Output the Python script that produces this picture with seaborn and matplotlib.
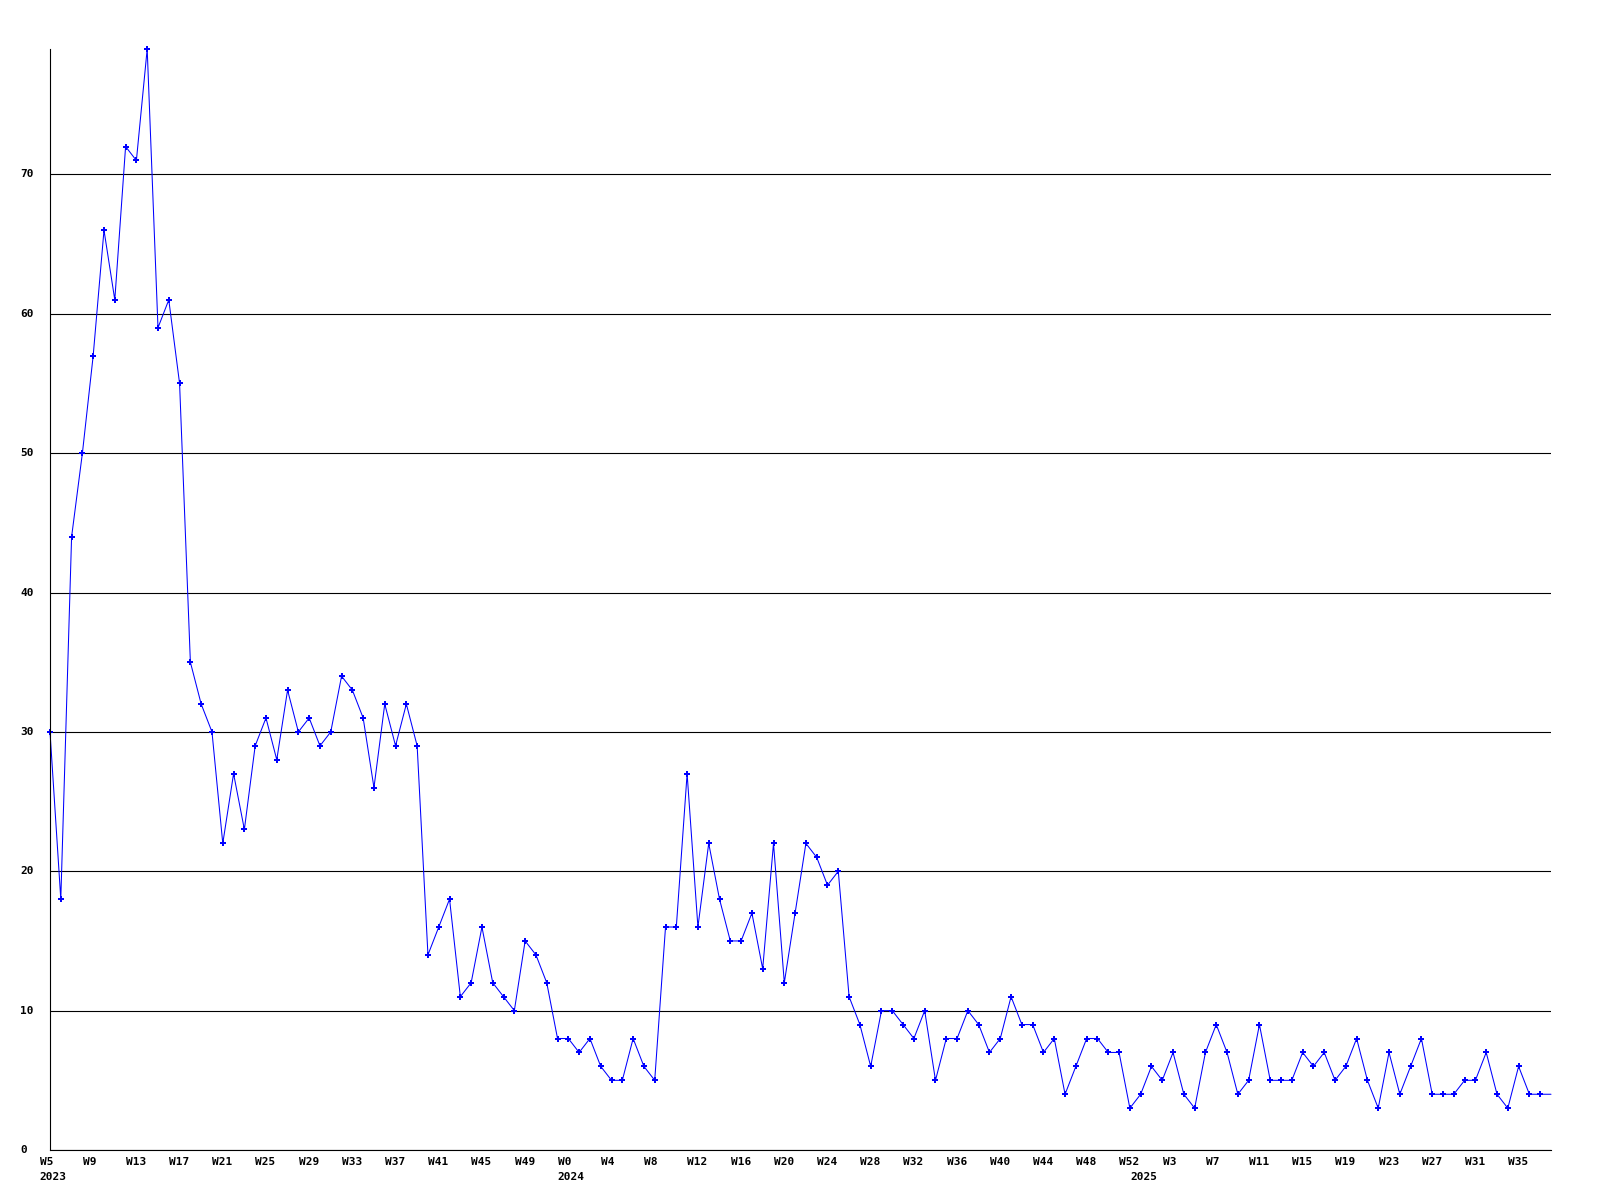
import numpy as np
import pandas as pd
import matplotlib
matplotlib.use("Agg")
import matplotlib.pyplot as plt
import matplotlib.transforms as mtransforms
import seaborn as sns

# ---- data ----
weeks_2023 = list(range(5, 53))
values_2023 = [30, 18, 44, 50, 57, 66, 61, 72, 71, 79, 59, 61, 55, 35, 32, 30, 22, 27, 23, 29,
               31, 28, 33, 30, 31, 29, 30, 34, 33, 31, 26, 32, 29, 32, 29, 14, 16, 18, 11, 12,
               16, 12, 11, 10, 15, 14, 12, 8]
weeks_2024 = list(range(0, 53))
values_2024 = [8, 7, 8, 6, 5, 5, 8, 6, 5, 16, 16, 27, 16, 22, 18, 15, 15, 17, 13, 22,
               12, 17, 22, 21, 19, 20, 11, 9, 6, 10, 10, 9, 8, 10, 5, 8, 8, 10, 9, 7,
               8, 11, 9, 9, 7, 8, 4, 6, 8, 8, 7, 7, 3]
weeks_2025 = list(range(0, 39))
values_2025 = [4, 6, 5, 7, 4, 3, 7, 9, 7, 4, 5, 9, 5, 5, 5, 7, 6, 7, 5, 6,
               8, 5, 3, 7, 4, 6, 8, 4, 4, 4, 5, 5, 7, 4, 3, 6, 4, 4, 4]
y_ticks = [0, 10, 20, 30, 40, 50, 60, 70]

years = [2023] * len(weeks_2023) + [2024] * len(weeks_2024) + [2025] * len(weeks_2025)
weeks = weeks_2023 + weeks_2024 + weeks_2025
values = values_2023 + values_2024 + values_2025
df = pd.DataFrame({"year": years, "week": weeks, "value": values})
df["idx"] = np.arange(len(df))

sns.set_style("white")
plt.rcParams["font.family"] = ["DejaVu Sans Mono", "DejaVu Sans"]

fig = plt.figure(figsize=(16, 12), dpi=100)
ax = fig.add_axes([50 / 1600, 1 - 1150 / 1200, 1501 / 1600, 1101 / 1200])

n = len(df)
sns.lineplot(data=df, x="idx", y="value", ax=ax, color="#0000ff", linewidth=0.75,
             marker="P", markersize=4.2, markeredgewidth=0, markevery=list(range(n - 1)),
             clip_on=False)

ax.set_xlim(0, n - 1)
ax.set_ylim(0, max(values))
ax.set_yticks(y_ticks)
ax.yaxis.grid(True, color="black", linewidth=0.8)
ax.xaxis.grid(False)
ax.set_axisbelow(True)
for s in ["top", "right"]:
    ax.spines[s].set_visible(False)
for s in ["left", "bottom"]:
    ax.spines[s].set_color("black")
    ax.spines[s].set_linewidth(0.8)
ax.tick_params(axis="both", length=0, labelleft=False, labelbottom=False)
ax.set_xlabel("")
ax.set_ylabel("")

font = dict(fontsize=8, fontweight="bold", color="black")

# y labels
ytrans = mtransforms.blended_transform_factory(ax.transAxes, ax.transData) + \
    mtransforms.ScaledTranslation(-30 / 100, 0, fig.dpi_scale_trans)
for v in y_ticks:
    ax.text(0, v, str(v), transform=ytrans, ha="left", va="center", **font)

# x labels: every 4th week, year at the first week of each year
xtrans_w = mtransforms.blended_transform_factory(ax.transData, ax.transAxes) + \
    mtransforms.ScaledTranslation(-10.5 / 100, -12 / 100, fig.dpi_scale_trans)
xtrans_y = mtransforms.blended_transform_factory(ax.transData, ax.transAxes) + \
    mtransforms.ScaledTranslation(-10.5 / 100, -27 / 100, fig.dpi_scale_trans)
for i in range(0, n, 4):
    ax.text(df["idx"][i], 0, f"W{df['week'][i]}", transform=xtrans_w,
            ha="left", va="center", **font)
first_rows = df.groupby("year")["idx"].min()
for yr, i in first_rows.items():
    ax.text(i, 0, str(yr), transform=xtrans_y, ha="left", va="center", **font)

fig.savefig("out.png", dpi=100, facecolor="white")
